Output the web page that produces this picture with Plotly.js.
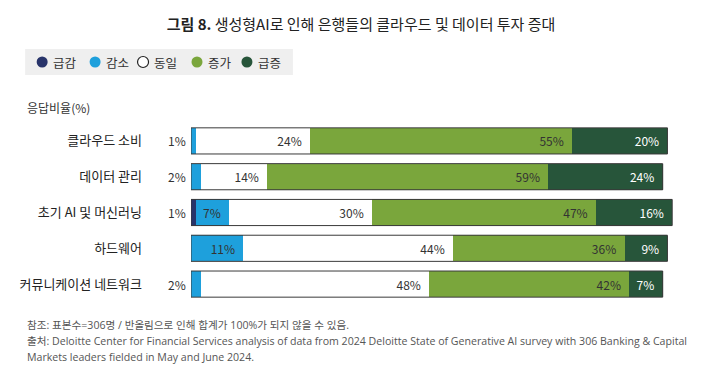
<!DOCTYPE html>
<html>
<head>
<meta charset="utf-8">
<script src="https://cdn.plot.ly/plotly-3.0.1.min.js"></script>
<style>html,body{margin:0;padding:0;background:#fff;}#chart{width:714px;height:385px;}</style>
</head>
<body>
<div id="chart"></div>
<script>
// ---- data ----
const categories = ['클라우드 소비', '데이터 관리', '초기 AI 및 머신러닝', '하드웨어', '커뮤니케이션 네트워크'];
const seriesNames = ['급감', '감소', '동일', '증가', '급증'];
const sharplyDecrease = [0, 0, 1, 0, 0];
const decrease = [1, 2, 7, 11, 2];
const same = [24, 14, 30, 44, 48];
const increase = [55, 59, 47, 36, 42];
const sharplyIncrease = [20, 24, 16, 9, 7];

const colors = ['#28346a', '#1ea0dc', '#ffffff', '#7aa63c', '#27553a'];
const textColors = ['#ffffff', '#333333', '#333333', '#333333', '#ffffff'];
const seriesValues = [sharplyDecrease, decrease, same, increase, sharplyIncrease];

const FONT = '"Noto Sans CJK KR", "Noto Sans", sans-serif';
const W = 714, H = 385;
const L = 191, R = 36.5, T = 123, B = 83;
const plotW = W - L - R, plotH = H - T - B;
const px = x => (x - L) / plotW;           // pixel -> paper x
const py = y => 1 - (y - T) / plotH;       // pixel -> paper y

// first-segment small values are written outside, left of the bar
const outsideLabel = categories.map(() => null);
categories.forEach((c, i) => {
  for (let s = 0; s < seriesValues.length; s++) {
    const v = seriesValues[s][i];
    if (v > 0) { if (v <= 2) outsideLabel[i] = {s: s, v: v}; break; }
  }
});

const traces = seriesValues.map((vals, s) => ({
  type: 'bar',
  orientation: 'h',
  name: seriesNames[s],
  y: categories,
  x: vals,
  width: 0.73,
  marker: {color: colors[s], line: {width: 0}},
  text: vals.map((v, i) => (v === 0 || (outsideLabel[i] && outsideLabel[i].s === s)) ? '' : v + '%\u00a0\u00a0'),
  textposition: 'inside',
  insidetextanchor: 'end',
  constraintext: 'none',
  textangle: 0,
  textfont: {family: FONT, size: 12, color: textColors[s]},
  hoverinfo: 'skip',
  showlegend: false
}));

// bar outlines computed from the data totals
const totals = categories.map((c, i) => seriesValues.reduce((a, arr) => a + arr[i], 0));
const shapes = [];
categories.forEach((c, i) => {
  shapes.push({type: 'rect', xref: 'x', yref: 'y', x0: 0, x1: totals[i],
    y0: i - 0.365, y1: i + 0.365, line: {color: '#3a3a3a', width: 1}, fillcolor: 'rgba(0,0,0,0)', layer: 'above'});
});

// legend box (drawn manually to match compact layout)
shapes.push({type: 'rect', xref: 'paper', yref: 'paper', x0: px(25), x1: px(293), y0: py(49), y1: py(75),
  fillcolor: '#efefef', line: {width: 0}, layer: 'below'});
const legendX = [42, 95, 143, 197, 247];
const annotations = [];
seriesNames.forEach((n, s) => {
  shapes.push({type: 'circle', xref: 'paper', yref: 'paper', xsizemode: 'pixel', ysizemode: 'pixel',
    xanchor: px(legendX[s]), yanchor: py(62), x0: -5.5, x1: 5.5, y0: -5.5, y1: 5.5,
    fillcolor: colors[s], line: {color: s === 2 ? '#222' : colors[s], width: s === 2 ? 1.2 : 0}});
  annotations.push({xref: 'paper', yref: 'paper', x: px(legendX[s] + 9), y: py(62), xanchor: 'left', yanchor: 'middle',
    text: n, showarrow: false, font: {family: FONT, size: 12.5, color: '#333'}});
});

// outside small labels
outsideLabel.forEach((o, i) => {
  if (!o) return;
  annotations.push({xref: 'x', yref: 'y', x: 0, y: categories[i], xanchor: 'right', yanchor: 'middle',
    xshift: -3, text: o.v + '%', showarrow: false, font: {family: FONT, size: 12, color: '#333'}});
});

annotations.push({xref: 'paper', yref: 'paper', x: px(25), y: py(108), xanchor: 'left', yanchor: 'middle',
  text: '응답비율(%)', showarrow: false, font: {family: FONT, size: 12, color: '#333'}});

const notes = [
  '참조: 표본수=306명 / 반올림으로 인해 합계가 100%가 되지 않을 수 있음.',
  '출처: Deloitte Center for Financial Services analysis of data from 2024 Deloitte State of Generative AI survey with 306 Banking &amp; Capital',
  'Markets leaders fielded in May and June 2024.'
];
const noteY = [325, 341, 357];
notes.forEach((t, k) => {
  annotations.push({xref: 'paper', yref: 'paper', x: px(25), y: py(noteY[k]), xanchor: 'left', yanchor: 'middle',
    text: t, showarrow: false, font: {family: '"Open Sans", "Noto Sans CJK KR", sans-serif', size: 10.6, color: '#555'}});
});

const layout = {
  width: W, height: H,
  margin: {l: L, r: R, t: T, b: B, pad: 0},
  paper_bgcolor: '#fff', plot_bgcolor: '#fff',
  barmode: 'stack',
  bargap: 0.27,
  showlegend: false,
  title: {text: '<b>그림 8.</b> 생성형AI로 인해 은행들의 클라우드 및 데이터 투자 증대',
    font: {family: FONT, size: 15, color: '#222'}, x: 361 / W, xanchor: 'center', xref: 'container',
    y: 1 - 25 / H, yanchor: 'middle', yref: 'container'},
  xaxis: {range: [0, 102], visible: false, fixedrange: true},
  yaxis: {type: 'category', categoryorder: 'array', categoryarray: categories, autorange: 'reversed',
    showgrid: false, zeroline: false, showline: false, ticks: '', ticklabelstandoff: 48,
    tickfont: {family: FONT, size: 13, color: '#222'}, fixedrange: true},
  shapes: shapes,
  annotations: annotations,
  font: {family: FONT}
};

Plotly.newPlot('chart', traces, layout, {displayModeBar: false, staticPlot: true});
</script>
</body>
</html>
